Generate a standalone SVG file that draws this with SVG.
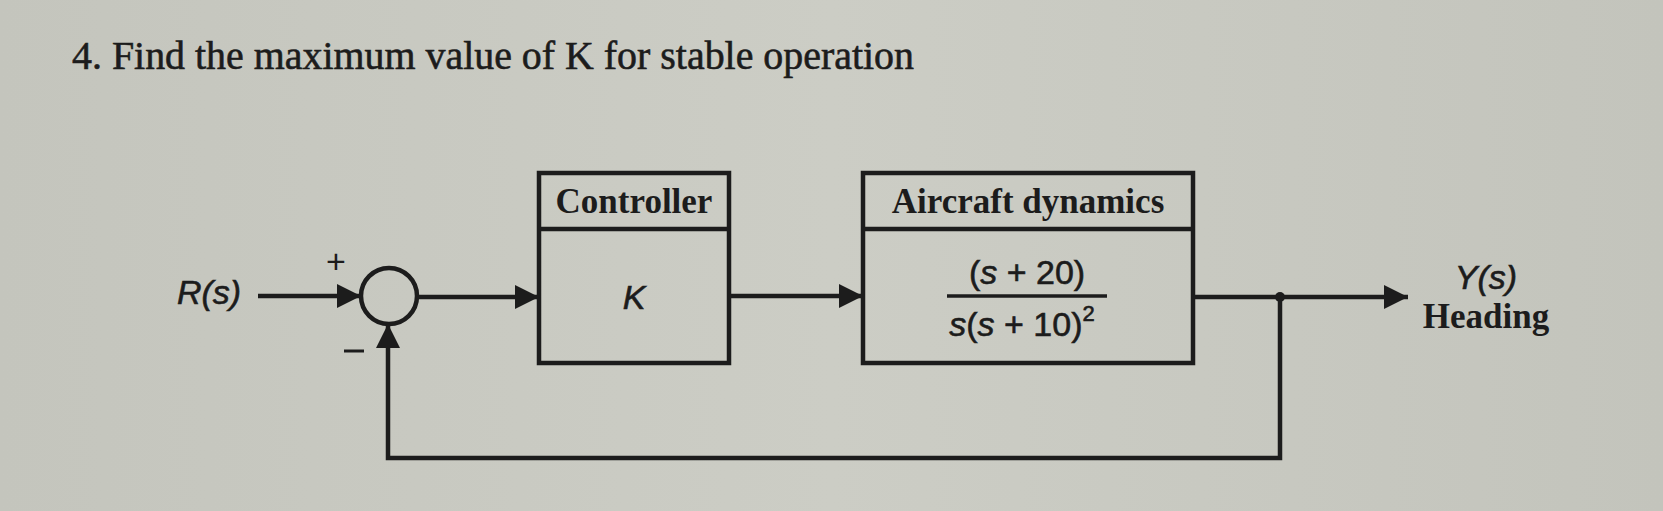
<svg xmlns="http://www.w3.org/2000/svg" width="1663" height="511" viewBox="0 0 1663 511">
<defs>
<linearGradient id="bg" x1="0" y1="0" x2="1" y2="0">
<stop offset="0" stop-color="#c4c5bd"/>
<stop offset="0.5" stop-color="#cccdc5"/>
<stop offset="1" stop-color="#c3c4bc"/>
</linearGradient>
<marker id="arr" viewBox="0 0 24 24" refX="24" refY="12" markerWidth="24" markerHeight="24" markerUnits="userSpaceOnUse" orient="auto">
<path d="M0,0 L24,12 L0,24 Z" fill="#1c1c1c"/>
</marker>
</defs>
<style>
.ln{fill:none;stroke:#1c1c1c;stroke-width:4.5}
.box{fill:none;stroke:#1c1c1c;stroke-width:4.5}
.hdr{font-family:"Liberation Serif",serif;font-weight:bold;font-size:35px;fill:#1c1c1c;text-anchor:middle}
.math{font-family:"Liberation Sans",sans-serif;font-size:34px;fill:#1c1c1c;stroke:#1c1c1c;stroke-width:0.6}
.it{font-style:italic}
.sign{font-family:"Liberation Sans",sans-serif;font-size:34px;fill:#1c1c1c;text-anchor:middle}
</style>
<rect width="1663" height="511" fill="url(#bg)"/>
<text x="72" y="69" font-family="Liberation Serif, serif" font-size="41" fill="#1c1c1c" stroke="#1c1c1c" stroke-width="0.6" textLength="842" lengthAdjust="spacingAndGlyphs">4. Find the maximum value of K for stable operation</text>

<g id="input">
<text class="math it" x="209" y="304" text-anchor="middle">R(s)</text>
</g>
<g id="sum">
<circle cx="389" cy="296" r="28" class="ln"/>
<text class="sign" x="336" y="273">+</text>
<line x1="344" y1="351" x2="364" y2="351" stroke="#1c1c1c" stroke-width="3"/>
</g>
<g id="controller">
<rect x="539" y="173" width="190" height="190" class="box"/>
<line x1="539" y1="229" x2="729" y2="229" class="ln"/>
<text class="hdr" x="634" y="213">Controller</text>
<text class="math it" x="634" y="309" text-anchor="middle">K</text>
</g>
<g id="plant">
<rect x="863" y="173" width="330" height="190" class="box"/>
<line x1="863" y1="229" x2="1193" y2="229" class="ln"/>
<text class="hdr" x="1028" y="213">Aircraft dynamics</text>
<text class="math" x="1027" y="284" text-anchor="middle">(<tspan class="it">s</tspan> + 20)</text>
<line x1="947" y1="296" x2="1107" y2="296" stroke="#1c1c1c" stroke-width="3.5"/>
<text class="math" x="1022" y="336" text-anchor="middle"><tspan class="it">s</tspan>(<tspan class="it">s</tspan> + 10)<tspan font-size="22" dy="-15">2</tspan></text>
</g>
<g id="output">
<text class="math it" x="1486" y="289" text-anchor="middle">Y(s)</text>
<text class="hdr" x="1486" y="328" font-size="34">Heading</text>
</g>
<g id="connectors">
<line x1="258" y1="296" x2="361" y2="296" class="ln" marker-end="url(#arr)"/>
<line x1="417" y1="297" x2="539" y2="297" class="ln" marker-end="url(#arr)"/>
<line x1="729" y1="296" x2="863" y2="296" class="ln" marker-end="url(#arr)"/>
<line x1="1193" y1="297" x2="1408" y2="297" class="ln" marker-end="url(#arr)"/>
<circle cx="1280" cy="297" r="5" fill="#1c1c1c"/>
<polyline points="1280,297 1280,458 388,458 388,324" class="ln" marker-end="url(#arr)"/>
</g>
</svg>
